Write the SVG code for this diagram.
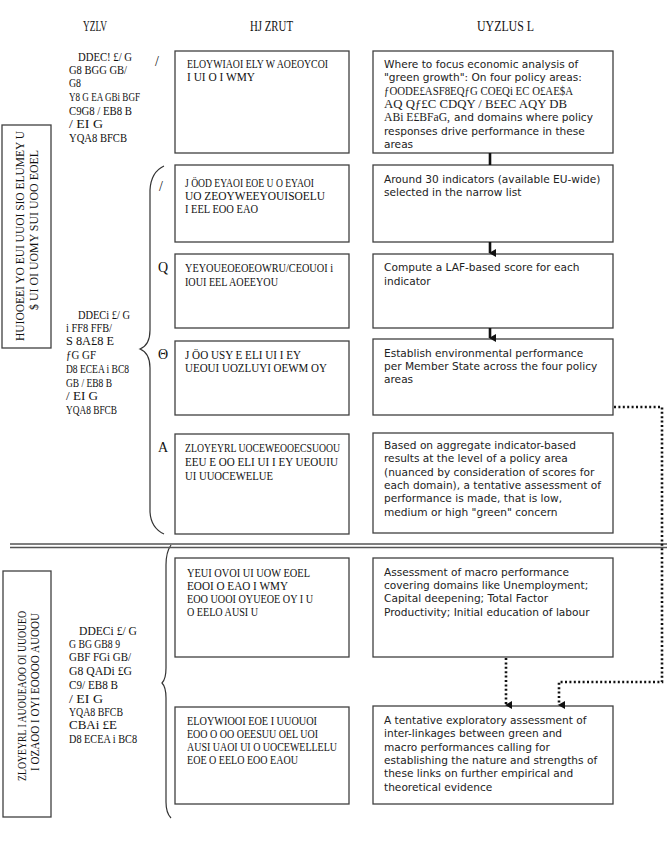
<svg xmlns="http://www.w3.org/2000/svg" width="667" height="860" viewBox="0 0 667 860">
<style>
.box{fill:#fff;stroke:#404040;stroke-width:1.3}
.g{font-family:"Liberation Serif",serif;font-size:12.5px;fill:#111}
.n{font-family:"Liberation Serif",serif;font-size:14px;fill:#111}
.gs{font-family:"Liberation Serif",serif;font-size:12px;fill:#222}
.h{font-family:"Liberation Serif",serif;font-size:15px;fill:#111}
.t{font-family:"DejaVu Sans",sans-serif;font-size:10.6px;fill:#222}
.c{fill:none;stroke:#111;stroke-width:2.6}
.d{fill:none;stroke:#111;stroke-width:2.6;stroke-dasharray:2 2.4}
.br{fill:none;stroke:#333;stroke-width:1.2}
.dl{stroke:#555;stroke-width:1.4}
</style>
<defs>
<marker id="ah" markerWidth="8" markerHeight="7" refX="4" refY="6" orient="auto" markerUnits="userSpaceOnUse" viewBox="0 0 8 7">
<path d="M0,0 L8,0 L4,7 Z" fill="#111"/>
</marker>
</defs>
<rect width="667" height="860" fill="#fff"/>

<g id="headers">
<text class="h" x="83" y="31" textLength="24" lengthAdjust="spacingAndGlyphs">YZLV</text>
<text class="h" x="250" y="31" textLength="43" lengthAdjust="spacingAndGlyphs">HJ ZRUT</text>
<text class="h" x="477" y="31" textLength="57" lengthAdjust="spacingAndGlyphs">UYZLUS L</text>
</g>

<g id="left-box-1">
<rect class="box" x="2" y="125" width="49" height="223"/>
<text class="g" transform="translate(24,341) rotate(-90)" textLength="210" lengthAdjust="spacingAndGlyphs">HUIOOEEI YO EUI UUOI SIO ELUMEY U</text>
<text class="g" transform="translate(38,310) rotate(-90)" textLength="160" lengthAdjust="spacingAndGlyphs">$ UI OI UOMY SUI UOO EOEL</text>
</g>

<g id="left-box-2">
<rect class="box" x="3" y="571" width="48" height="246"/>
<text class="g" transform="translate(26,781) rotate(-90)" textLength="170" lengthAdjust="spacingAndGlyphs">ZLOYEYRL I AUOUEAOO OI UUOUEO</text>
<text class="g" transform="translate(39,771) rotate(-90)" textLength="158" lengthAdjust="spacingAndGlyphs">I OZAOO I OYI EOOOO AUOOU</text>
</g>

<g id="left-text-1">
<text class="g" x="78" y="61" textLength="54" lengthAdjust="spacingAndGlyphs">DDEC! £/ G</text>
<text class="g" x="69" y="74" textLength="58" lengthAdjust="spacingAndGlyphs">G8 BGG GB/</text>
<text class="g" x="69" y="87" textLength="12" lengthAdjust="spacingAndGlyphs">G8</text>
<text class="g" x="69" y="101" textLength="71" lengthAdjust="spacingAndGlyphs">Y8 G EA GBi BGF</text>
<text class="g" x="69" y="115" textLength="63" lengthAdjust="spacingAndGlyphs">C9G8 / EB8 B</text>
<text class="g" x="69" y="128" textLength="34" lengthAdjust="spacingAndGlyphs">/ EI G</text>
<text class="g" x="69" y="142" textLength="58" lengthAdjust="spacingAndGlyphs">YQA8 BFCB</text>
</g>

<g id="left-text-2">
<text class="g" x="78" y="319" textLength="52" lengthAdjust="spacingAndGlyphs">DDECi £/ G</text>
<text class="g" x="66" y="332" textLength="46" lengthAdjust="spacingAndGlyphs">i FF8 FFB/</text>
<text class="g" x="66" y="345" textLength="48" lengthAdjust="spacingAndGlyphs">S 8A£8 E</text>
<text class="g" x="66" y="359" textLength="30" lengthAdjust="spacingAndGlyphs">ƒG GF</text>
<text class="g" x="66" y="373" textLength="63" lengthAdjust="spacingAndGlyphs">D8 ECEA i BC8</text>
<text class="g" x="66" y="387" textLength="46" lengthAdjust="spacingAndGlyphs">GB / EB8 B</text>
<text class="g" x="66" y="400" textLength="32" lengthAdjust="spacingAndGlyphs">/ EI G</text>
<text class="g" x="66" y="414" textLength="51" lengthAdjust="spacingAndGlyphs">YQA8 BFCB</text>
</g>

<g id="left-text-3">
<text class="g" x="79" y="635" textLength="58" lengthAdjust="spacingAndGlyphs">DDECi £/ G</text>
<text class="g" x="69" y="648" textLength="51" lengthAdjust="spacingAndGlyphs">G BG GB8 9</text>
<text class="g" x="69" y="661" textLength="62" lengthAdjust="spacingAndGlyphs">GBF FGi GB/</text>
<text class="g" x="69" y="675" textLength="63" lengthAdjust="spacingAndGlyphs">G8 QADi £G</text>
<text class="g" x="69" y="689" textLength="49" lengthAdjust="spacingAndGlyphs">C9/ EB8 B</text>
<text class="g" x="69" y="703" textLength="34" lengthAdjust="spacingAndGlyphs">/ EI G</text>
<text class="g" x="69" y="716" textLength="54" lengthAdjust="spacingAndGlyphs">YQA8 BFCB</text>
<text class="g" x="69" y="729" textLength="48" lengthAdjust="spacingAndGlyphs">CBAi £E</text>
<text class="g" x="69" y="743" textLength="68" lengthAdjust="spacingAndGlyphs">D8 ECEA i BC8</text>
</g>

<g id="numbers">
<text class="n" x="155" y="66">/</text>
<text class="n" x="159" y="191">/</text>
<text class="n" x="158" y="272">Q</text>
<text class="n" x="158" y="359">Θ</text>
<text class="n" x="158" y="452">A</text>
</g>

<g id="braces">
<path class="br" d="M164,166 Q151,172 150,190 L150,330 Q150,345 140,349 Q150,353 150,368 L150,512 Q151,528 164,534"/>
<path class="br" d="M171,545 Q166,552 166,565 L166,668 Q166,679 162,683 Q166,687 166,698 L166,802 Q166,813 171,818"/>
</g>

<g id="mid-1">
<rect class="box" x="175" y="51" width="174" height="102"/>
<text class="g" x="187" y="68" textLength="141" lengthAdjust="spacingAndGlyphs">ELOYWIAOI ELY W AOEOYCOI</text>
<text class="g" x="187" y="81" textLength="68" lengthAdjust="spacingAndGlyphs">I UI O I WMY</text>
</g>
<g id="mid-2">
<rect class="box" x="175" y="165" width="174" height="77"/>
<text class="g" x="185" y="187" textLength="129" lengthAdjust="spacingAndGlyphs">J ÖOD EYAOI EOE U O EYAOI</text>
<text class="g" x="185" y="200" textLength="140" lengthAdjust="spacingAndGlyphs">UO ZEOYWEEYOUISOELU</text>
<text class="g" x="185" y="213" textLength="73" lengthAdjust="spacingAndGlyphs">I EEL EOO EAO</text>
</g>
<g id="mid-3">
<rect class="box" x="175" y="254" width="174" height="74"/>
<text class="g" x="185" y="272" textLength="148" lengthAdjust="spacingAndGlyphs">YEYOUEOEOEOWRU/CEOUOI i</text>
<text class="g" x="185" y="286" textLength="93" lengthAdjust="spacingAndGlyphs">IOUI EEL AOEEYOU</text>
</g>
<g id="mid-4">
<rect class="box" x="175" y="341" width="174" height="74"/>
<text class="g" x="185" y="359" textLength="116" lengthAdjust="spacingAndGlyphs">J ÖO USY E ELI UI I EY</text>
<text class="g" x="185" y="372" textLength="142" lengthAdjust="spacingAndGlyphs">UEOUI UOZLUYI OEWM OY</text>
</g>
<g id="mid-5">
<rect class="box" x="175" y="434" width="174" height="100"/>
<text class="g" x="185" y="452" textLength="155" lengthAdjust="spacingAndGlyphs">ZLOYEYRL UOCEWEOOECSUOOU</text>
<text class="g" x="185" y="466" textLength="153" lengthAdjust="spacingAndGlyphs">EEU E OO ELI UI I EY UEOUIU</text>
<text class="g" x="185" y="480" textLength="88" lengthAdjust="spacingAndGlyphs">UI UUOCEWELUE</text>
</g>
<g id="mid-6">
<rect class="box" x="175" y="558" width="174" height="99"/>
<text class="g" x="187" y="577" textLength="123" lengthAdjust="spacingAndGlyphs">YEUI OVOI UI UOW EOEL</text>
<text class="g" x="187" y="590" textLength="101" lengthAdjust="spacingAndGlyphs">EOOI O EAO I WMY</text>
<text class="g" x="187" y="603" textLength="126" lengthAdjust="spacingAndGlyphs">EOO UOOI OYUEOE OY I U</text>
<text class="g" x="187" y="616" textLength="71" lengthAdjust="spacingAndGlyphs">O EELO AUSI U</text>
</g>
<g id="mid-7">
<rect class="box" x="175" y="707" width="174" height="97"/>
<text class="g" x="187" y="725" textLength="130" lengthAdjust="spacingAndGlyphs">ELOYWIOOI EOE I UUOUOI</text>
<text class="g" x="187" y="738" textLength="131" lengthAdjust="spacingAndGlyphs">EOO O OO OEESUU OEL UOI</text>
<text class="g" x="187" y="751" textLength="150" lengthAdjust="spacingAndGlyphs">AUSI UAOI UI O UOCEWELLELU</text>
<text class="g" x="187" y="764" textLength="111" lengthAdjust="spacingAndGlyphs">EOE O EELO EOO EAOU</text>
</g>

<g id="right-1">
<rect class="box" x="373" y="51" width="240" height="102"/>
<text class="t" x="384" y="68">Where to focus economic analysis of</text>
<text class="t" x="384" y="81">"green growth": On four policy areas:</text>
<text class="gs" x="384" y="95" textLength="189" lengthAdjust="spacingAndGlyphs">ƒOODE£ASF8EQƒG COEQi  EC O£AE$A</text>
<text class="gs" x="384" y="108" textLength="183" lengthAdjust="spacingAndGlyphs">AQ Qƒ£C CDQY /   B£EC AQY DB</text>
<text class="gs" x="384" y="121" textLength="66" lengthAdjust="spacingAndGlyphs">ABi E£BFaG,</text>
<text class="t" x="454" y="121">and domains where policy</text>
<text class="t" x="384" y="135">responses drive performance in these</text>
<text class="t" x="384" y="148">areas</text>
</g>
<g id="right-2">
<rect class="box" x="373" y="165" width="240" height="77"/>
<text class="t" x="384" y="183">Around 30 indicators (available EU-wide)</text>
<text class="t" x="384" y="196">selected in the narrow list</text>
</g>
<g id="right-3">
<rect class="box" x="373" y="254" width="240" height="74"/>
<text class="t" x="384" y="271">Compute a LAF-based score for each</text>
<text class="t" x="384" y="285">indicator</text>
</g>
<g id="right-4">
<rect class="box" x="373" y="339" width="240" height="76"/>
<text class="t" x="384" y="357">Establish environmental performance</text>
<text class="t" x="384" y="370">per Member State across the four policy</text>
<text class="t" x="384" y="383">areas</text>
</g>
<g id="right-5">
<rect class="box" x="373" y="433" width="240" height="100"/>
<text class="t" x="384" y="449">Based on aggregate indicator-based</text>
<text class="t" x="384" y="462">results at the level of a policy area</text>
<text class="t" x="384" y="476">(nuanced by consideration of scores for</text>
<text class="t" x="384" y="489">each domain), a tentative assessment of</text>
<text class="t" x="384" y="502">performance is made, that is low,</text>
<text class="t" x="384" y="516">medium or high "green" concern</text>
</g>
<g id="right-6">
<rect class="box" x="373" y="558" width="240" height="99"/>
<text class="t" x="384" y="576">Assessment of macro performance</text>
<text class="t" x="384" y="589">covering domains like Unemployment;</text>
<text class="t" x="384" y="602">Capital deepening; Total Factor</text>
<text class="t" x="384" y="616">Productivity; Initial education of labour</text>
</g>
<g id="right-7">
<rect class="box" x="373" y="706" width="240" height="98"/>
<text class="t" x="384" y="724">A tentative exploratory assessment of</text>
<text class="t" x="384" y="737">inter-linkages between green and</text>
<text class="t" x="384" y="751">macro performances calling for</text>
<text class="t" x="384" y="764">establishing the nature and strengths of</text>
<text class="t" x="384" y="777">these links on further empirical and</text>
<text class="t" x="384" y="791">theoretical evidence</text>
</g>

<g id="separator">
<line class="dl" x1="10" y1="544" x2="667" y2="544"/>
<line class="dl" x1="10" y1="547.5" x2="667" y2="547.5"/>
</g>

<g id="connectors">
<line class="c" x1="490" y1="153" x2="490" y2="165"/>
<line class="c" x1="490" y1="242" x2="490" y2="253" marker-end="url(#ah)"/>
<line class="c" x1="490" y1="328" x2="490" y2="338" marker-end="url(#ah)"/>
<line class="d" x1="506" y1="658" x2="506" y2="705" marker-end="url(#ah)"/>
<polyline class="d" points="614,407 662,407 662,682 559,682 559,705" marker-end="url(#ah)"/>
</g>
</svg>
